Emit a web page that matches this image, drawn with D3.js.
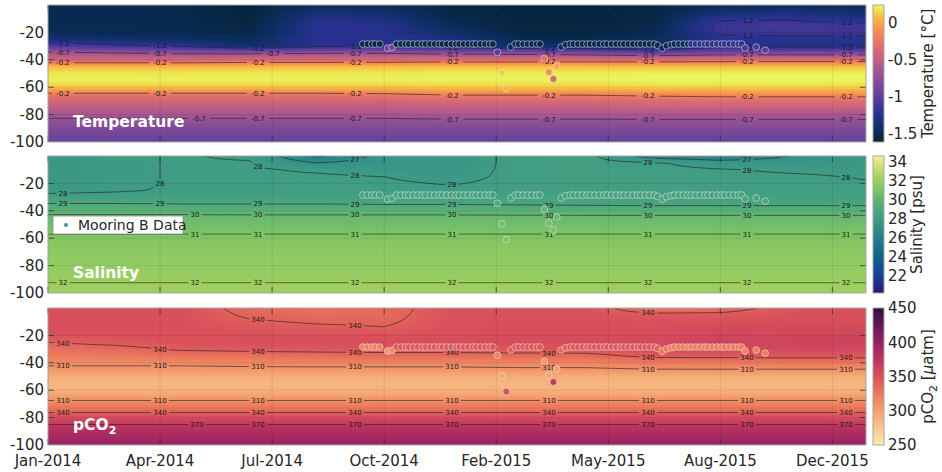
<!DOCTYPE html>
<html>
<head>
<meta charset="utf-8">
<script src="https://cdn.jsdelivr.net/npm/d3@7"></script>
<style>
  body { margin: 0; background: #fff; }
  svg text { font-family: "DejaVu Sans", sans-serif; fill: #262626; }
</style>
</head>
<body>
<svg id="chart" width="942" height="472"></svg>
<script>
// ---------- data ----------
// model grid: columns are days since 1 Jan 2014, rows are depths
const gridDays = [0, 60, 120, 180, 240, 300, 360, 420, 480, 540, 600, 660, 730];
const gridDepths = [0, -5, -10, -15, -20, -25, -30, -35, -40, -45, -50, -55, -60, -65, -70, -75, -80, -85, -90, -95, -100];

// temperature [°C], one profile per grid day
const tempProfiles = [
  [-1.5, -1.5, -1.5, -1.5, -1.48, -1.35, -1.05, -0.65, -0.4, 0.06, 0.19, 0.21, 0.1, -0.24, -0.4, -0.53, -0.64, -0.75, -0.83, -0.9, -0.95],
  [-1.5, -1.5, -1.5, -1.5, -1.48, -1.4, -1.15, -0.7, -0.4, 0.06, 0.19, 0.21, 0.1, -0.24, -0.4, -0.53, -0.64, -0.75, -0.83, -0.9, -0.95],
  [-1.52, -1.52, -1.52, -1.52, -1.5, -1.42, -1.22, -0.74, -0.4, 0.05, 0.19, 0.21, 0.1, -0.24, -0.4, -0.53, -0.64, -0.75, -0.83, -0.9, -0.95],
  [-1.58, -1.58, -1.57, -1.55, -1.52, -1.48, -1.4, -0.75, -0.36, 0.06, 0.2, 0.21, 0.1, -0.24, -0.4, -0.53, -0.64, -0.75, -0.83, -0.9, -0.95],
  [-1.45, -1.36, -1.28, -1.24, -1.23, -1.24, -1.25, -0.72, -0.36, 0.06, 0.2, 0.21, 0.1, -0.24, -0.4, -0.53, -0.64, -0.75, -0.83, -0.9, -0.95],
  [-1.45, -1.4, -1.32, -1.26, -1.24, -1.24, -1.23, -0.72, -0.35, 0.07, 0.2, 0.21, 0.1, -0.22, -0.4, -0.53, -0.64, -0.75, -0.83, -0.9, -0.95],
  [-1.55, -1.55, -1.52, -1.48, -1.4, -1.32, -1.3, -0.78, -0.33, 0.08, 0.21, 0.22, 0.12, -0.17, -0.36, -0.5, -0.62, -0.74, -0.83, -0.9, -0.95],
  [-1.57, -1.57, -1.57, -1.56, -1.55, -1.5, -1.38, -0.8, -0.33, 0.08, 0.21, 0.22, 0.12, -0.17, -0.36, -0.5, -0.62, -0.74, -0.83, -0.9, -0.95],
  [-1.57, -1.57, -1.57, -1.56, -1.55, -1.5, -1.42, -0.85, -0.32, 0.08, 0.21, 0.22, 0.12, -0.17, -0.36, -0.5, -0.62, -0.74, -0.83, -0.9, -0.95],
  [-1.55, -1.55, -1.55, -1.53, -1.5, -1.47, -1.45, -0.95, -0.32, 0.08, 0.22, 0.23, 0.14, -0.14, -0.34, -0.48, -0.63, -0.73, -0.82, -0.9, -0.95],
  [-1.45, -1.4, -1.22, -1.15, -1.17, -1.25, -1.28, -0.85, -0.31, 0.08, 0.22, 0.23, 0.14, -0.12, -0.32, -0.47, -0.63, -0.73, -0.82, -0.9, -0.95],
  [-1.45, -1.35, -1.22, -1.12, -1.15, -1.25, -1.3, -0.85, -0.3, 0.08, 0.22, 0.23, 0.14, -0.12, -0.32, -0.47, -0.63, -0.73, -0.82, -0.9, -0.95],
  [-1.45, -1.4, -1.3, -1.15, -1.15, -1.25, -1.3, -0.85, -0.3, 0.08, 0.22, 0.23, 0.14, -0.12, -0.32, -0.47, -0.63, -0.73, -0.82, -0.9, -0.95]
];

// salinity [psu]
const salProfiles = [
  [27.7, 27.7, 27.7, 27.7, 27.7, 27.75, 28.3, 29.05, 29.75, 30.2, 30.55, 30.9, 31.15, 31.35, 31.5, 31.65, 31.75, 31.85, 31.95, 32.05, 32.15],
  [27.9, 27.9, 27.9, 27.9, 27.9, 27.9, 28.3, 29.05, 29.75, 30.2, 30.55, 30.9, 31.15, 31.35, 31.5, 31.65, 31.75, 31.85, 31.95, 32.05, 32.15],
  [28.05, 28.05, 28.05, 28.05, 28.05, 28.1, 28.35, 29.0, 29.75, 30.2, 30.55, 30.9, 31.15, 31.35, 31.5, 31.65, 31.75, 31.85, 31.95, 32.05, 32.15],
  [27.9, 28.05, 28.1, 28.1, 28.1, 28.15, 28.4, 29.0, 29.7, 30.2, 30.55, 30.9, 31.15, 31.35, 31.5, 31.65, 31.75, 31.85, 31.95, 32.05, 32.15],
  [25.8, 27.0, 27.9, 28.1, 28.15, 28.2, 28.4, 29.0, 29.7, 30.2, 30.55, 30.9, 31.15, 31.35, 31.5, 31.65, 31.75, 31.85, 31.95, 32.05, 32.15],
  [27.4, 27.5, 27.7, 28.0, 28.1, 28.2, 28.4, 28.95, 29.7, 30.2, 30.55, 30.9, 31.15, 31.35, 31.5, 31.65, 31.75, 31.85, 31.95, 32.05, 32.15],
  [27.6, 27.6, 27.65, 27.75, 27.95, 28.15, 28.4, 28.95, 29.7, 30.2, 30.55, 30.9, 31.15, 31.35, 31.5, 31.65, 31.75, 31.85, 31.95, 32.05, 32.15],
  [28.2, 28.2, 28.2, 28.2, 28.2, 28.25, 28.45, 28.9, 29.65, 30.2, 30.55, 30.9, 31.15, 31.35, 31.5, 31.65, 31.75, 31.85, 31.95, 32.05, 32.15],
  [28.3, 28.3, 28.3, 28.3, 28.3, 28.3, 28.45, 28.85, 29.6, 30.2, 30.55, 30.9, 31.15, 31.35, 31.5, 31.65, 31.75, 31.85, 31.95, 32.05, 32.15],
  [26.5, 28.1, 28.2, 28.25, 28.3, 28.3, 28.45, 28.8, 29.6, 30.2, 30.55, 30.9, 31.15, 31.35, 31.5, 31.65, 31.75, 31.85, 31.95, 32.05, 32.15],
  [26.0, 27.6, 28.05, 28.15, 28.2, 28.25, 28.45, 28.8, 29.6, 30.2, 30.55, 30.9, 31.15, 31.35, 31.5, 31.65, 31.75, 31.85, 31.95, 32.05, 32.15],
  [27.0, 27.5, 27.9, 28.1, 28.2, 28.25, 28.45, 28.8, 29.6, 30.2, 30.55, 30.9, 31.15, 31.35, 31.5, 31.65, 31.75, 31.85, 31.95, 32.05, 32.15],
  [27.8, 27.8, 27.85, 27.95, 28.05, 28.2, 28.45, 28.8, 29.6, 30.2, 30.55, 30.9, 31.15, 31.35, 31.5, 31.65, 31.75, 31.85, 31.95, 32.05, 32.15]
];

// pCO2 [uatm]
const pco2Profiles = [
  [352, 352, 352, 352, 350, 340, 331, 323, 314, 305, 293, 286, 289, 302, 318, 335, 354, 370, 381, 390, 397],
  [352, 352, 352, 352, 351, 345, 334, 324, 314, 305, 293, 286, 289, 302, 318, 335, 354, 370, 381, 390, 397],
  [351, 351, 351, 351, 351, 350, 343, 328, 314, 305, 293, 286, 289, 302, 318, 335, 354, 370, 381, 390, 397],
  [333, 337, 342, 347, 350, 352, 345, 330, 315, 306, 293, 286, 289, 302, 318, 335, 354, 370, 381, 390, 397],
  [330, 333, 338, 344, 350, 352, 346, 332, 316, 306, 293, 286, 289, 302, 318, 335, 354, 370, 381, 390, 397],
  [332, 334, 337, 341, 350, 353, 347, 333, 316, 306, 293, 286, 289, 302, 318, 335, 354, 370, 381, 390, 397],
  [350, 350, 350, 351, 352, 353, 347, 333, 316, 306, 293, 286, 289, 302, 318, 335, 354, 370, 381, 390, 397],
  [350, 350, 351, 352, 353, 354, 348, 334, 317, 307, 293, 286, 289, 302, 318, 335, 354, 370, 381, 390, 397],
  [350, 350, 351, 352, 353, 354, 349, 334, 317, 307, 293, 286, 289, 302, 318, 335, 354, 370, 381, 390, 397],
  [325, 345, 350, 352, 354, 356, 354, 345, 323, 309, 293, 286, 289, 302, 318, 335, 354, 370, 381, 390, 397],
  [330, 345, 352, 355, 358, 360, 356, 345, 324, 309, 293, 286, 289, 302, 318, 335, 354, 370, 381, 390, 397],
  [348, 350, 353, 356, 358, 360, 357, 346, 325, 309, 293, 286, 289, 302, 318, 335, 354, 370, 381, 390, 397],
  [350, 351, 353, 356, 358, 361, 358, 346, 325, 309, 293, 286, 289, 302, 318, 335, 354, 370, 381, 390, 397]
];

// Mooring B samples
const mooringDay = [
  281, 285, 289, 292, 296, 303, 307,
  311, 315, 319, 322, 326, 330, 334, 337, 341, 345, 349, 352, 356, 360, 364, 367, 371, 375, 379, 382, 386, 390, 394, 397,
  401, 405, 409,
  413, 417, 420, 424, 428, 432, 436, 439,
  443, 447, 451, 454,
  458, 462, 466, 469, 473, 477, 481, 484, 488, 492, 496, 499, 503, 507, 511, 514, 518, 522, 526, 529, 533, 537, 541,
  544, 548, 552, 556,
  559, 563, 567, 571, 574, 578, 582, 586, 589, 593, 597, 601, 604, 608, 612, 616, 619,
  622, 632, 640
];
const mooringDepth = [
  -28.5, -28.5, -28.5, -28.5, -28.5, -31.5, -31,
  -28.5, -28.5, -28.5, -28.5, -28.5, -28.5, -28.5, -28.5, -28.5, -28.5, -28.5, -28.5, -28.5, -28.5, -28.5, -28.5, -28.5, -28.5, -28.5, -28.5, -28.5, -28.5, -28.5, -28.5,
  -34.5, -49.5, -61,
  -30.7, -28.5, -28.5, -28.5, -28.5, -28.5, -28.5, -28.5,
  -39, -49, -54, -44.5,
  -30.7, -29, -28.5, -28.5, -28.5, -28.5, -28.5, -28.5, -28.5, -28.5, -28.5, -28.5, -28.5, -28.5, -28.5, -28.5, -28.5, -28.5, -28.5, -28.5, -28.5, -28.5, -28.5,
  -29.5, -31.5, -29.8, -29,
  -28.5, -28.5, -28.5, -28.5, -28.5, -28.5, -28.5, -28.5, -28.5, -28.5, -28.5, -28.5, -28.5, -28.5, -28.5, -28.5, -28.5,
  -31.4, -30.7, -33
];
const mooringTemp = [
  -1.52, -1.52, -1.52, -1.52, -1.52, -0.95, -0.9,
  -1.52, -1.52, -1.52, -1.52, -1.52, -1.52, -1.52, -1.52, -1.52, -1.52, -1.52, -1.52, -1.52, -1.52, -1.52, -1.52, -1.52, -1.52, -1.52, -1.52, -1.52, -1.52, -1.52, -1.52,
  -1.05, 0.12, 0.05,
  -1.45, -1.52, -1.52, -1.52, -1.52, -1.52, -1.52, -1.52,
  -0.3, -0.12, -0.38, -0.02,
  -1.45, -1.5, -1.52, -1.52, -1.52, -1.52, -1.52, -1.52, -1.52, -1.52, -1.52, -1.52, -1.52, -1.52, -1.52, -1.52, -1.52, -1.52, -1.52, -1.52, -1.52, -1.52, -1.52,
  -1.48, -1.48, -1.48, -1.48,
  -1.45, -1.45, -1.45, -1.45, -1.22, -1.22, -1.22, -1.22, -1.22, -1.22, -1.22, -1.22, -1.22, -1.22, -1.22, -1.22, -1.22,
  -1.1, -1.08, -1.02
];
const mooringSal = [
  28.6, 28.6, 28.6, 28.6, 28.6, 28.8, 28.8,
  28.6, 28.6, 28.6, 28.6, 28.6, 28.6, 28.6, 28.6, 28.6, 28.6, 28.6, 28.6, 28.6, 28.6, 28.6, 28.6, 28.6, 28.6, 28.6, 28.6, 28.6, 28.6, 28.6, 28.6,
  29.1, 30.6, 31.2,
  28.8, 28.6, 28.6, 28.6, 28.6, 28.6, 28.6, 28.6,
  30.2, 30.6, 30.9, 30.3,
  28.8, 28.7, 28.6, 28.6, 28.6, 28.6, 28.6, 28.6, 28.6, 28.6, 28.6, 28.6, 28.6, 28.6, 28.6, 28.6, 28.6, 28.6, 28.6, 28.6, 28.6, 28.6, 28.6,
  28.7, 28.9, 28.7, 28.7,
  28.6, 28.6, 28.6, 28.6, 28.6, 28.6, 28.6, 28.6, 28.6, 28.6, 28.6, 28.6, 28.6, 28.6, 28.6, 28.6, 28.6,
  28.8, 28.8, 28.9
];
const mooringPco2 = [
  318, 318, 318, 318, 318, 308, 312,
  345, 345, 345, 345, 345, 345, 345, 345, 345, 345, 345, 345, 345, 345, 345, 345, 345, 345, 345, 345, 345, 345, 345, 345,
  315, 295, 352,
  340, 345, 345, 345, 345, 345, 345, 345,
  305, 298, 368, 300,
  335, 340, 345, 345, 345, 345, 345, 345, 345, 345, 345, 345, 345, 345, 345, 345, 345, 345, 345, 345, 345, 345, 345,
  340, 325, 325, 325,
  322, 322, 322, 322, 322, 322, 322, 322, 322, 322, 322, 322, 322, 322, 322, 322, 322,
  318, 320, 322
];

// axes
const xTickDays = [0, 100, 200, 300, 400, 500, 600, 700];
const xTickLabels = ["Jan-2014", "Apr-2014", "Jul-2014", "Oct-2014", "Feb-2015", "May-2015", "Aug-2015", "Dec-2015"];
const yTicks = [-20, -40, -60, -80, -100];

const tempLevels = [-1.2, -0.7, -0.2];
const salLevels = [26, 27, 28, 29, 30, 31, 32];
const pco2Levels = [310, 340, 370];

const tempCbTicks = [-1.5, -1, -0.5, 0];
const salCbTicks = [22, 24, 26, 28, 30, 32, 34];
const pco2CbTicks = [250, 300, 350, 400, 450];

// colormaps (cmocean thermal / haline / matter), evenly spaced stops
const thermalStops = ["#042333", "#0c2e62", "#27318f", "#4f3a9d", "#764799", "#9b5394", "#c15f84", "#e06d6e", "#f58b54", "#fbb53f", "#e8fa5b"];
const halineStops = ["#2a186c", "#1a3c9c", "#0f5f8e", "#1f768b", "#379487", "#4fa97d", "#7cc465", "#b3d65b", "#fdef9a"];
const matterStops = ["#fdedb0", "#f9c88d", "#f3a16f", "#eb785c", "#d9515b", "#bb3260", "#932163", "#66185a", "#2f0f3d"];

// ---------- layout ----------
const X0 = 48, X1 = 866, PH = 137;
const panelTops = [5, 156, 308];
const CBX = 873, CBW = 11;
const labelXs = [63, 160, 258, 355, 452, 549, 648, 747, 846];

const DAY = 864e5;
const T0 = Date.UTC(2014, 0, 1);
const toDate = d => new Date(T0 + d * DAY);
const x = d3.scaleUtc().domain([toDate(0), toDate(730)]).range([X0, X1]);
const dayAt = px => (x.invert(px) - T0) / DAY;

const svg = d3.select("#chart");
const defs = svg.append("defs");

function makeField(profiles) {
  const zs = gridDepths.map(d => -d);
  return function (day, depth) {
    let j = d3.bisectRight(gridDays, day) - 1;
    j = Math.max(0, Math.min(gridDays.length - 2, j));
    const tx = Math.max(0, Math.min(1, (day - gridDays[j]) / (gridDays[j + 1] - gridDays[j])));
    const z = -depth;
    let i = d3.bisectRight(zs, z) - 1;
    i = Math.max(0, Math.min(zs.length - 2, i));
    const tz = Math.max(0, Math.min(1, (z - zs[i]) / (zs[i + 1] - zs[i])));
    const a = profiles[j][i], b = profiles[j + 1][i];
    const c = profiles[j][i + 1], e = profiles[j + 1][i + 1];
    return (a * (1 - tx) + b * tx) * (1 - tz) + (c * (1 - tx) + e * tx) * tz;
  };
}

const panels = [
  { title: "Temperature", profiles: tempProfiles, levels: tempLevels, domain: [-1.62, 0.24], stops: thermalStops,
    cbTicks: tempCbTicks, cbLabel: "Temperature [°C]", cbLabelX: 933, values: mooringTemp },
  { title: "Salinity", profiles: salProfiles, levels: salLevels, domain: [20.2, 34.6], stops: halineStops,
    cbTicks: salCbTicks, cbLabel: "Salinity [psu]", cbLabelX: 922, values: mooringSal },
  { title: "pCO2", profiles: pco2Profiles, levels: pco2Levels, domain: [250, 450], stops: matterStops,
    cbTicks: pco2CbTicks, cbLabel: null, cbLabelX: 933, values: mooringPco2 }
];

panels.forEach((p, k) => {
  const top = panelTops[k];
  const y = d3.scaleLinear().domain([-100, 0]).range([top + PH, top]);
  const color = d3.scaleSequential(d3.piecewise(d3.interpolateRgb, p.stops)).domain(p.domain).clamp(true);
  const field = makeField(p.profiles);
  const g = svg.append("g");

  // boxes that contour labels must keep clear of (panel title, legend)
  const blockers = [{ x0: 70, x1: 186, y0: top + PH - 28, y1: top + PH - 10 }];
  if (k === 1) blockers.push({ x0: 53, x1: 186, y0: 212, y1: 238 });

  defs.append("clipPath").attr("id", "clip" + k)
    .append("rect").attr("x", X0).attr("y", top).attr("width", X1 - X0).attr("height", PH);

  // heatmap
  const cw = X1 - X0, ch = PH;
  const canvas = document.createElement("canvas");
  canvas.width = cw; canvas.height = ch;
  const ctx = canvas.getContext("2d");
  const img = ctx.createImageData(cw, ch);
  const lut = d3.range(256).map(i => d3.rgb(color(p.domain[0] + (p.domain[1] - p.domain[0]) * i / 255)));
  const colDays = d3.range(cw).map(px => dayAt(X0 + px + 0.5));
  for (let py = 0; py < ch; py++) {
    const depth = y.invert(top + py + 0.5);
    for (let px = 0; px < cw; px++) {
      const v = field(colDays[px], depth);
      let t = (v - p.domain[0]) / (p.domain[1] - p.domain[0]);
      t = Math.max(0, Math.min(1, t));
      const c = lut[Math.round(t * 255)];
      const o = (py * cw + px) * 4;
      img.data[o] = c.r; img.data[o + 1] = c.g; img.data[o + 2] = c.b; img.data[o + 3] = 255;
    }
  }
  ctx.putImageData(img, 0, 0);
  g.append("image").attr("x", X0).attr("y", top).attr("width", cw).attr("height", ch)
    .attr("preserveAspectRatio", "none").attr("href", canvas.toDataURL());

  // faint grid
  const grid = g.append("g").attr("stroke", "#000").attr("stroke-opacity", 0.1).attr("stroke-width", 0.8);
  grid.selectAll("line.v").data(xTickDays).join("line")
    .attr("x1", d => x(toDate(d))).attr("x2", d => x(toDate(d))).attr("y1", top).attr("y2", top + PH);
  grid.selectAll("line.h").data(yTicks.slice(0, 4)).join("line")
    .attr("x1", X0).attr("x2", X1).attr("y1", d => y(d)).attr("y2", d => y(d));

  // contour field on a padded grid
  const dxp = 3, dyp = 1.5;
  const nx = Math.ceil(cw / dxp) + 1, ny = Math.ceil(ch / dyp) + 1;
  const n = nx + 2, m = ny + 2;
  const vals = new Float64Array(n * m);
  for (let j = 0; j < m; j++) {
    const py = Math.max(top, Math.min(top + ch, top + (j - 1) * dyp));
    const depth = y.invert(py);
    for (let i = 0; i < n; i++) {
      const px = Math.max(X0, Math.min(X1, X0 + (i - 1) * dxp));
      vals[j * n + i] = field(dayAt(px), depth);
    }
  }
  const contours = d3.contours().size([n, m]).thresholds(p.levels)(vals);
  const proj = d3.geoTransform({
    point(cx, cy) { this.stream.point(X0 + (cx - 1.5) * dxp, top + (cy - 1.5) * dyp); }
  });
  const path = d3.geoPath(proj);

  // contour labels: where each level crosses the label columns
  const labels = [];
  labelXs.forEach(lx => {
    const found = [];
    let prev = field(dayAt(lx), y.invert(top));
    for (let py = top + 0.5; py <= top + ch; py += 0.5) {
      const v = field(dayAt(lx), y.invert(py));
      p.levels.forEach(L => {
        if ((prev - L) * (v - L) < 0) {
          const yy = py - 0.5 * (v - L) / (v - prev);
          if (yy > top + 3 && yy < top + ch - 3) found.push({ y: yy, text: String(L) });
        }
      });
      prev = v;
    }
    found.sort((a, b) => a.y - b.y);
    let lastY = -99, shift = 0;
    found.forEach(f => {
      shift = (f.y - lastY < 6 && shift === 0) ? 15 : 0;
      let lxx = lx + shift;
      const hw = f.text.length * 2.3 + 2;
      blockers.forEach(b => {
        if (lxx + hw > b.x0 && lxx - hw < b.x1 && f.y + 4 > b.y0 && f.y - 4 < b.y1) {
          lxx = Math.round(b.x1 + hw + 2);   // slide along the line, past the box
        }
      });
      const dup = labels.some(l => l.text === f.text && Math.abs(l.x - lxx) < 20 && Math.abs(l.y - f.y) < 4);
      if (!dup) labels.push({ x: lxx, y: f.y, text: f.text });
      lastY = f.y;
    });
  });

  const mask = defs.append("mask").attr("id", "mask" + k).attr("maskUnits", "userSpaceOnUse")
    .attr("x", 0).attr("y", 0).attr("width", 942).attr("height", 472);
  mask.append("rect").attr("width", 942).attr("height", 472).attr("fill", "#fff");
  mask.selectAll("rect.gap").data(labels).join("rect")
    .attr("x", d => d.x - d.text.length * 2.3 - 2).attr("y", d => d.y - 4)
    .attr("width", d => d.text.length * 4.6 + 4).attr("height", 8).attr("fill", "#000");

  const clipG = g.append("g").attr("clip-path", `url(#clip${k})`);
  clipG.append("g").attr("mask", `url(#mask${k})`)
    .selectAll("path").data(contours).join("path")
    .attr("d", path).attr("fill", "none")
    .attr("stroke", "#222").attr("stroke-opacity", 0.75).attr("stroke-width", 0.8);

  clipG.append("g").selectAll("text").data(labels).join("text")
    .attr("x", d => d.x).attr("y", d => d.y).attr("dy", "0.35em")
    .attr("text-anchor", "middle").style("font-size", "7px").style("fill", "#1a1a1a")
    .text(d => d.text);

  // mooring samples
  clipG.append("g").selectAll("circle").data(mooringDay).join("circle")
    .attr("cx", d => x(toDate(d)))
    .attr("cy", (d, i) => y(mooringDepth[i]))
    .attr("r", 3.4)
    .attr("fill", (d, i) => color(p.values[i]))
    .attr("stroke", "#e6e6e6").attr("stroke-opacity", 0.6).attr("stroke-width", 0.9);

  // ticks inside the box
  const ticks = g.append("g").attr("stroke", "#333").attr("stroke-width", 0.8);
  yTicks.slice(0, 4).forEach(v => {
    ticks.append("line").attr("x1", X0).attr("x2", X0 + 6).attr("y1", y(v)).attr("y2", y(v));
    ticks.append("line").attr("x1", X1 - 6).attr("x2", X1).attr("y1", y(v)).attr("y2", y(v));
  });
  xTickDays.forEach(d => {
    const xx = x(toDate(d));
    ticks.append("line").attr("x1", xx).attr("x2", xx).attr("y1", top + PH).attr("y2", top + PH - 6);
    ticks.append("line").attr("x1", xx).attr("x2", xx).attr("y1", top).attr("y2", top + 6);
  });

  g.append("rect").attr("x", X0).attr("y", top).attr("width", X1 - X0).attr("height", PH)
    .attr("fill", "none").attr("stroke", "#a6a6a6").attr("stroke-width", 1);

  // y tick labels
  g.append("g").selectAll("text").data(yTicks).join("text")
    .attr("x", 44).attr("y", d => y(d)).attr("dy", "0.34em").attr("text-anchor", "end")
    .style("font-size", "15px").text(d => String(d));

  // panel title
  const title = g.append("text").attr("x", 73).attr("y", top + PH - 15)
    .style("font-size", "15.5px").style("font-weight", "bold").style("fill", "#fff");
  if (p.title === "pCO2") {
    title.append("tspan").text("pCO");
    title.append("tspan").attr("dy", 4).style("font-size", "11px").text("2");
  } else {
    title.text(p.title);
  }

  // colorbar
  const gid = "grad" + k;
  const grad = defs.append("linearGradient").attr("id", gid)
    .attr("x1", 0).attr("y1", 1).attr("x2", 0).attr("y2", 0);
  d3.range(0, 1.0001, 0.05).forEach(t => {
    grad.append("stop").attr("offset", t)
      .attr("stop-color", color(p.domain[0] + t * (p.domain[1] - p.domain[0])));
  });
  const cy = d3.scaleLinear().domain(p.domain).range([top + PH, top]);
  g.append("rect").attr("x", CBX).attr("y", top).attr("width", CBW).attr("height", PH)
    .attr("fill", `url(#${gid})`).attr("stroke", "#a6a6a6").attr("stroke-width", 1);
  g.append("g").selectAll("text").data(p.cbTicks).join("text")
    .attr("x", CBX + CBW + 4).attr("y", d => cy(d)).attr("dy", "0.36em")
    .style("font-size", "15px").text(d => String(d));

  const cbl = g.append("text")
    .attr("transform", `translate(${p.cbLabelX},${top + PH / 2}) rotate(-90)`)
    .attr("text-anchor", "middle").style("font-size", "15px");
  if (p.cbLabel) {
    cbl.text(p.cbLabel);
  } else {
    cbl.append("tspan").text("pCO");
    cbl.append("tspan").attr("dy", 4).style("font-size", "11px").text("2");
    cbl.append("tspan").attr("dy", -4).text(" [");
    cbl.append("tspan").style("font-style", "italic").text("μ");
    cbl.append("tspan").text("atm]");
  }

  // legend in the salinity panel
  if (k === 1) {
    const lg = g.append("g");
    lg.append("rect").attr("x", 53).attr("y", 216).attr("width", 130).attr("height", 18)
      .attr("fill", "#fff").attr("stroke", "#8c8c8c").attr("stroke-width", 0.8);
    lg.append("circle").attr("cx", 66).attr("cy", 225).attr("r", 2).attr("fill", "#3e9b84");
    lg.append("text").attr("x", 78).attr("y", 225).attr("dy", "0.36em")
      .style("font-size", "14px").text("Mooring B Data");
  }

  // x tick labels under the last panel
  if (k === 2) {
    g.append("g").selectAll("text").data(xTickDays).join("text")
      .attr("x", d => x(toDate(d))).attr("y", 466).attr("text-anchor", "middle")
      .style("font-size", "15px").text((d, i) => xTickLabels[i]);
  }
});
</script>
</body>
</html>
